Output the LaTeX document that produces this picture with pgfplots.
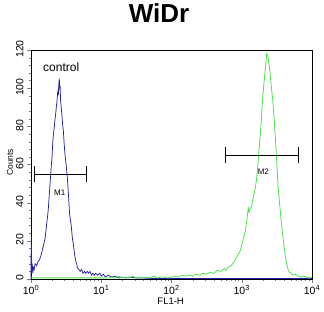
\documentclass[border=0pt]{standalone}
\usepackage{fontspec}
\setmainfont{Liberation Sans}
\usepackage{pgfplots}
\pgfplotsset{compat=1.18}
\definecolor{blueline}{RGB}{35,35,170}
\definecolor{greenline}{RGB}{80,225,80}
\begin{document}
\begin{tikzpicture}
\path[use as bounding box] (-31pt,-32pt) rectangle (293pt,279pt);
\begin{axis}[
  scale only axis, width=281pt, height=229pt,
  xmin=0, xmax=4, ymin=0, ymax=120,
  axis line style={line width=0.7pt},
  tick align=outside, tick pos=left,
  major tick length=4pt, minor tick length=2.2pt,
  xtick={0,1,2,3,4},
  xticklabels={10\textsuperscript{0},10\textsuperscript{1},10\textsuperscript{2},10\textsuperscript{3},10\textsuperscript{4}},
  minor xtick={0.301,0.477,0.602,0.699,0.778,0.845,0.903,0.954,
               1.301,1.477,1.602,1.699,1.778,1.845,1.903,1.954,
               2.301,2.477,2.602,2.699,2.778,2.845,2.903,2.954,
               3.301,3.477,3.602,3.699,3.778,3.845,3.903,3.954},
  ytick={0,20,40,60,80,100,120},
  minor y tick num=4,
  /pgf/number format/assume math mode=true,
  ticklabel style={font=\fontsize{10.5}{11}\selectfont},
  yticklabel style={rotate=90, anchor=south, xshift=1pt},
  xticklabel style={yshift=1pt},
  xlabel={FL1-H}, ylabel={Counts},
  xlabel style={font=\fontsize{9.5}{10}\selectfont, at={(axis description cs:0.497,-0.095)}, anchor=center},
  ylabel style={font=\fontsize{8.5}{9}\selectfont, at={(axis description cs:-0.075,0.51)}, anchor=center},
  clip=false,
]
\addplot[blueline, line width=0.75pt] table {
0 0
0.003 22
0.008 12
0.012 4
0.018 8
0.025 3
0.035 6
0.045 5
0.06 8
0.08 7
0.1 9
0.12 10
0.14 12
0.16 15
0.18 18
0.2 21
0.215 26
0.23 31
0.245 36
0.26 44
0.275 52
0.29 60
0.30 64
0.31 72
0.32 76
0.33 79
0.34 83
0.35 86
0.36 90
0.37 93
0.38 98
0.39 97
0.395 102
0.403 105
0.41 99
0.415 101
0.42 94
0.43 90
0.44 86
0.45 81
0.46 78
0.47 72
0.48 67
0.49 63
0.50 60
0.51 56
0.52 52
0.53 46
0.54 40
0.55 34
0.56 31
0.57 29
0.58 25
0.59 21
0.60 19
0.61 16
0.62 13
0.63 11
0.64 9
0.65 8
0.66 6
0.68 5
0.70 4
0.72 5
0.74 3
0.76 4
0.78 3
0.80 4
0.82 3
0.84 4
0.86 2
0.88 3
0.90 2
0.92 3
0.95 2
0.98 3
1.0 1.5
1.03 2.5
1.06 1
1.1 2
1.15 1
1.2 1.5
1.25 0.5
1.3 1
1.35 0.5
1.4 1
1.5 0.5
1.6 0.5
1.7 0.3
4 0.3
};
\addplot[greenline, line width=0.8pt] table {
0 0.6
1.0 0.6
1.1 0.5
1.15 1
1.2 0.5
1.25 1.5
1.3 0.5
1.35 1
1.4 0.5
1.45 1.5
1.5 0.5
1.55 1
1.6 0.5
1.65 1
1.7 0.5
1.75 1.5
1.8 0.5
1.85 1
1.9 1
1.95 0.5
2.0 1
2.05 1.5
2.1 1
2.15 2
2.2 1.5
2.25 2
2.3 1.5
2.35 2.5
2.4 2
2.45 3
2.5 2.5
2.55 3.5
2.6 3
2.65 4.5
2.7 4
2.75 5.5
2.78 4.5
2.8 6
2.85 7
2.88 8.5
2.92 11
2.95 13
2.98 15
3.0 18
3.03 22
3.05 25
3.07 30
3.085 35
3.095 37
3.105 35
3.12 37
3.14 38
3.16 42
3.19 47
3.21 52
3.23 60
3.26 74
3.28 84
3.30 96
3.32 104
3.34 112
3.355 118
3.37 117
3.39 112
3.40 109
3.42 101
3.44 94
3.46 85
3.48 73
3.50 60
3.52 47
3.54 39
3.56 31
3.58 24
3.60 18
3.62 12
3.64 8
3.66 5
3.68 3.5
3.70 3
3.73 2
3.76 2.5
3.8 1.5
3.84 1
3.88 1.5
3.92 1
3.96 0.5
4.0 1
};
% M1 marker
\addplot[black, line width=0.8pt] coordinates {(0.043,55) (0.783,55)};
\addplot[black, line width=0.8pt] coordinates {(0.043,51) (0.043,59)};
\addplot[black, line width=0.8pt] coordinates {(0.783,51) (0.783,59)};
% M2 marker
\addplot[black, line width=0.8pt] coordinates {(2.762,65) (3.805,65)};
\addplot[black, line width=0.8pt] coordinates {(2.762,61) (2.762,69)};
\addplot[black, line width=0.8pt] coordinates {(3.805,61) (3.805,69)};
\node[font=\fontsize{8}{9}\selectfont] at (axis cs:0.41,45) {M1};
\node[font=\fontsize{8}{9}\selectfont] at (axis cs:3.307,56) {M2};
\node[font=\fontsize{12}{13}\selectfont, anchor=base] at (axis cs:0.43,108.5) {control};
\end{axis}
\node[font=\fontsize{26}{28}\selectfont\bfseries, anchor=base] at (128pt,256pt) {WiDr};
\end{tikzpicture}
\end{document}
